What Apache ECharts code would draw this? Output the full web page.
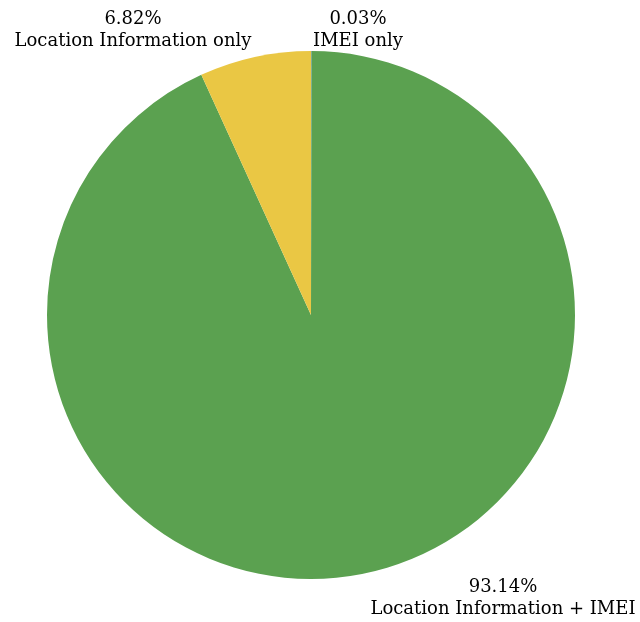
<!DOCTYPE html>
<html>
<head>
<meta charset="utf-8">
<script src="https://cdn.jsdelivr.net/npm/echarts@6/dist/echarts.min.js"></script>
<style>
  html, body { margin: 0; padding: 0; background: #fff; }
  #chart { width: 640px; height: 622px; }
</style>
</head>
<body>
<div id="chart"></div>
<script>
// slices clockwise from 12 o'clock
const categories = ['IMEI only', 'Location Information + IMEI', 'Location Information only'];
const shares = [0.03, 93.14, 6.82];
const colors = ['#4f7fc0', '#5ba150', '#eac744'];

// where each label block sits (centre of the two lines)
const labelSpots = [[358, 30], [503, 598], [133, 30]];

const chart = echarts.init(document.getElementById('chart'));

const option = {
    animation: false,
    series: [
        {
            type: 'pie',
            center: [311, 315],
            radius: 264,
            startAngle: 90,
            clockwise: true,
            avoidLabelOverlap: false,
            itemStyle: {
                borderWidth: 0
            },
            label: {
                show: true,
                position: 'outside',
                formatter: (p) => p.value.toFixed(2) + '%\n' + p.name,
                fontFamily: 'DejaVu Serif',
                fontSize: 18,
                lineHeight: 22,
                color: '#000',
                align: 'center'
            },
            labelLine: {
                show: false
            },
            labelLayout: (params) => {
                const spot = labelSpots[params.dataIndex];
                return {
                    x: spot[0],
                    y: spot[1],
                    align: 'center',
                    verticalAlign: 'middle'
                };
            },
            data: categories.map((name, i) => ({
                name: name,
                value: shares[i],
                itemStyle: {color: colors[i]}
            }))
        }
    ]
};
chart.setOption(option);
</script>
</body>
</html>
